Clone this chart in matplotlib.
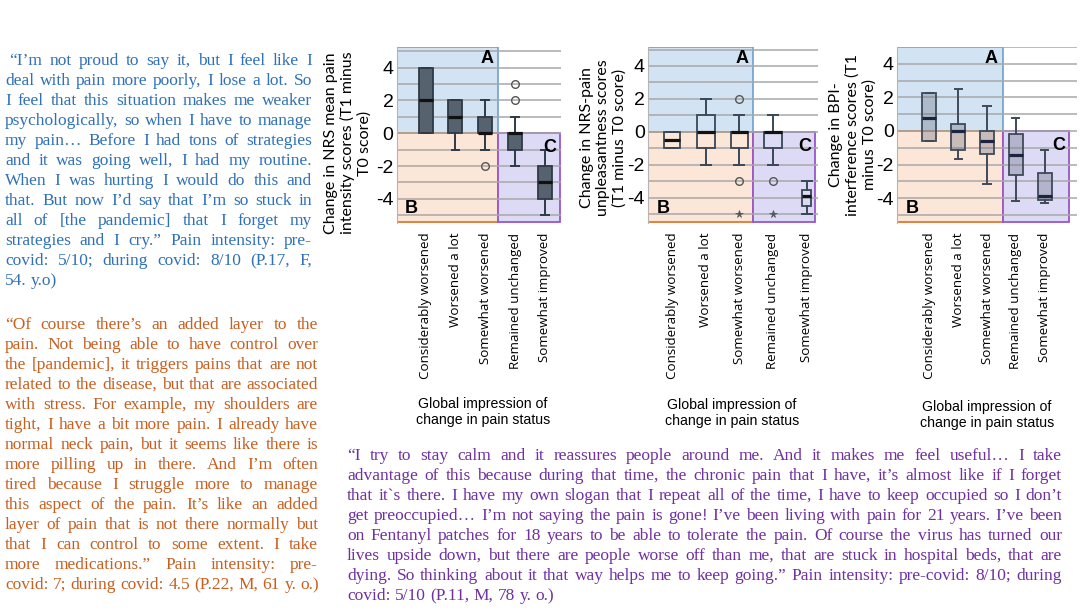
import matplotlib
matplotlib.use("Agg")
import matplotlib.pyplot as plt
from matplotlib import font_manager
from matplotlib.patches import Rectangle

# ---- data ----
categories = ["Considerably worsened", "Worsened a lot", "Somewhat worsened",
              "Remained unchanged", "Somewhat improved"]

# NRS mean pain intensity change
nrs_int_med = [2, 1, 0, 0, -3]
nrs_int_q1 = [0, 0, 0, -1, -4]
nrs_int_q3 = [4, 2, 1, 0, -2]
nrs_int_lo = [0, -1, -1, -2, -5]
nrs_int_hi = [4, 2, 2, 1, -1]
nrs_int_out = [[], [], [-2], [2, 3], []]
nrs_int_ext = [[], [], [], [], []]

# NRS pain unpleasantness change
nrs_unp_med = [-0.5, 0, 0, 0, -3.9]
nrs_unp_q1 = [-1, -1, -1, -1, -4.5]
nrs_unp_q3 = [0, 1, 0, 0, -3.5]
nrs_unp_lo = [-1, -2, -2, -2, -5]
nrs_unp_hi = [0, 2, 1, 1, -3]
nrs_unp_out = [[], [], [2, -3], [-3], []]
nrs_unp_ext = [[], [], [-5], [-5], []]

# BPI interference change
bpi_med = [0.8, 0, -0.6, -1.45, -3.85]
bpi_q1 = [-0.6, -1.15, -1.35, -2.6, -4.1]
bpi_q3 = [2.25, 0.4, 0, -0.2, -2.5]
bpi_lo = [-0.6, -1.7, -3.15, -4.15, -4.3]
bpi_hi = [2.25, 2.5, 1.5, 0.8, -1.15]
bpi_out = [[], [], [], [], []]
bpi_ext = [[], [], [], [], []]

quote_blue = [
    " \u201cI\u2019m not proud to say it, but I feel like I",
    "deal with pain more poorly, I lose a lot. So",
    "I feel that this situation makes me weaker",
    "psychologically, so when I have to manage",
    "my pain\u2026 Before I had tons of strategies",
    "and it was going well, I had my routine.",
    "When I was hurting I would do this and",
    "that. But now I\u2019d say that I\u2019m so stuck in",
    "all of [the pandemic] that I forget my",
    "strategies and I cry.\u201d Pain intensity: pre-",
    "covid: 5/10; during covid: 8/10 (P.17, F,",
    "54. y.o)",
]
quote_orange = [
    "\u201cOf course there\u2019s an added layer to the",
    "pain. Not being able to have control over",
    "the [pandemic], it triggers pains that are not",
    "related to the disease, but that are associated",
    "with stress. For example, my shoulders are",
    "tight, I have a bit more pain. I already have",
    "normal neck pain, but it seems like there is",
    "more pilling up in there. And I\u2019m often",
    "tired because I struggle more to manage",
    "this aspect of the pain. It\u2019s like an added",
    "layer of pain that is not there normally but",
    "that I can control to some extent. I take",
    "more medications.\u201d Pain intensity: pre-",
    "covid: 7; during covid: 4.5 (P.22, M, 61 y. o.)",
]
quote_purple = [
    "\u201cI try to stay calm and it reassures people around me. And it makes me feel useful\u2026 I take",
    "advantage of this because during that time, the chronic pain that I have, it\u2019s almost like if I forget",
    "that it`s there. I have my own slogan that I repeat all of the time, I have to keep occupied so I don\u2019t",
    "get preoccupied\u2026 I\u2019m not saying the pain is gone! I\u2019ve been living with pain for 21 years. I\u2019ve been",
    "on Fentanyl patches for 18 years to be able to tolerate the pain. Of course the virus has turned our",
    "lives upside down, but there are people worse off than me, that are stuck in hospital beds, that are",
    "dying. So thinking about it that way helps me to keep going.\u201d Pain intensity: pre-covid: 8/10; during",
    "covid: 5/10 (P.11, M, 78 y. o.)",
]


def pick(*names):
    have = {f.name for f in font_manager.fontManager.ttflist}
    for n in names:
        if n in have:
            return n
    return "DejaVu Sans"


NARROW = pick("Liberation Sans Narrow", "Liberation Sans")
LABELF = pick("Lato", "Open Sans")
TICKF = pick("Open Sans", "DejaVu Sans")
SERIF = pick("Liberation Serif", "DejaVu Serif")

W, H = 1084, 612
fig = plt.figure(figsize=(W / 100, H / 100), dpi=100)
fig.patch.set_facecolor("white")


def px_axes(l, t, r, b):
    return fig.add_axes([l / W, 1 - b / H, (r - l) / W, (b - t) / H])


def panel(ax, med, q1, q3, lo, hi, out, ext, xlim, ylim, split, c_right,
          widths, capw, face, edge, med_c):
    ax.set_xlim(*xlim)
    ax.set_ylim(*ylim)
    y0, y1 = ylim
    x0 = xlim[0]
    # shaded A / B / C regions
    ax.add_patch(Rectangle((x0, 0), split - x0, y1 - 0.02, facecolor="#d2e3f3",
                           edgecolor="#6f9fcf", lw=1.2, zorder=0.2))
    ax.add_patch(Rectangle((x0, y0 + 0.05), split - x0, -y0 - 0.05, facecolor="#fce6d8",
                           edgecolor="#dd7a30", lw=1.3, zorder=0.25))
    ax.add_patch(Rectangle((split, y0 + 0.05), c_right - split - 0.02, -y0 - 0.05,
                           facecolor="#dddaf6", edgecolor="#9a55cc", lw=1.3, zorder=0.25))
    ax.annotate("A", (split, y1), xytext=(-5, -3), textcoords="offset pixels",
                ha="right", va="top", fontsize=13, fontweight="bold", family="Liberation Sans")
    ax.annotate("B", (x0, y0), xytext=(8, 6), textcoords="offset pixels",
                ha="left", va="bottom", fontsize=13, fontweight="bold", family="Liberation Sans")
    ax.annotate("C", (c_right, 0), xytext=(-5, -6), textcoords="offset pixels",
                ha="right", va="top", fontsize=13, fontweight="bold", family="Liberation Sans")

    pos = list(range(1, len(med) + 1))
    stats = [dict(med=m, q1=a, q3=b, whislo=l, whishi=h, fliers=o)
             for m, a, b, l, h, o in zip(med, q1, q3, lo, hi, out)]
    ax.bxp(stats, positions=pos, widths=widths, capwidths=capw, patch_artist=True,
           manage_ticks=False,
           boxprops=dict(facecolor=face, edgecolor=edge, lw=1.3),
           medianprops=dict(color=med_c, lw=2.3),
           whiskerprops=dict(color=edge, lw=1.4),
           capprops=dict(color=edge, lw=1.4),
           flierprops=dict(marker="o", markerfacecolor="none", markeredgecolor="#555555",
                           markersize=5.5, mew=1.0))
    for p, vals in zip(pos, ext):
        if vals:
            ax.plot([p] * len(vals), vals, ls="none", marker="*", ms=5.5,
                    color="#555555", mew=0.5)

    ticks = list(range(-5, 6))
    ax.set_yticks(ticks)
    ax.set_yticklabels([str(t) if t % 2 == 0 else "" for t in ticks],
                       family=NARROW, fontsize=14)
    ax.set_xticks(pos)
    ax.set_xticklabels(categories, rotation=90, family=TICKF, fontsize=9.6)
    ax.tick_params(axis="y", length=0, pad=2.5)
    ax.tick_params(axis="x", length=0, pad=7)
    ax.set_axisbelow(True)
    ax.yaxis.grid(True, color="#a8a8a8", lw=1.1)
    for s in ("top", "right", "bottom"):
        ax.spines[s].set_visible(False)
    ax.spines["left"].set_color("#b5b5b5")
    ax.set_facecolor("none")


ax1 = px_axes(397, 46.7, 561, 223)
panel(ax1, nrs_int_med, nrs_int_q1, nrs_int_q3, nrs_int_lo, nrs_int_hi, nrs_int_out,
      nrs_int_ext, (0.04, 5.54), (-5.47, 5.28), 3.43, 5.54, 0.47, 0.26,
      "#56636f", "#2e3a46", "#111111")

ax2 = px_axes(648.3, 46.7, 818, 223)
panel(ax2, nrs_unp_med, nrs_unp_q1, nrs_unp_q3, nrs_unp_lo, nrs_unp_hi, nrs_unp_out,
      nrs_unp_ext, (0.293, 5.34), (-5.52, 5.17), 3.41, 5.28,
      [0.47, 0.54, 0.52, 0.54, 0.25], 0.3, "none", "#3a4756", "#111111")

ax3 = px_axes(897.3, 46.7, 1077, 223)
panel(ax3, bpi_med, bpi_q1, bpi_q3, bpi_lo, bpi_hi, bpi_out, bpi_ext,
      (-0.115, 6.125), (-5.49, 5.03), 3.55, 5.88, 0.48, 0.25,
      (0.40, 0.43, 0.50, 0.35), "#3f4a58", "#1c2540")

# axis titles placed by pixel
ylabels = [("Change in NRS mean pain\nintensity scores (T1 minus\nT0 score)", 348, 143),
           ("Change in NRS-pain\nunpleasantness scores\n(T1 minus T0 score)", 603, 138),
           ("Change in BPI-\ninterference scores (T1\nminus T0 score)", 853, 135)]
for txt, x, y in ylabels:
    fig.text(x / W, 1 - y / H, txt, rotation=90, ha="center", va="center",
             multialignment="center", family=LABELF, fontsize=11.5, linespacing=1.2)

for x, y in [(483, 412), (732, 413), (987, 415)]:
    fig.text(x / W, 1 - y / H, "Global impression of\nchange in pain status",
             ha="center", va="center", multialignment="center", family=NARROW,
             fontsize=10.2, linespacing=1.25)


# justified quote blocks
renderer = fig.canvas.get_renderer()


def measure(s, fs):
    t = fig.text(0, 0, s, fontsize=fs, family=SERIF)
    w = t.get_window_extent(renderer).width
    t.remove()
    return w


def justify(lines, x0, x1, base0, step, color, size):
    target = x1 - x0
    space = measure("a a", size) - measure("aa", size)
    need = 0
    for l in lines[:-1]:
        words = l.split()
        need = max(need, sum(measure(w, size) for w in words) + 0.55 * space * (len(words) - 1))
    if need > target:
        size *= target / need
        space *= target / need
    for i, line in enumerate(lines):
        indent = (len(line) - len(line.lstrip())) * space
        words = line.split()
        y = 1 - (base0 + i * step) / H
        arts = [fig.text(0, y, w, fontsize=size, family=SERIF, color=color,
                         ha="left", va="baseline") for w in words]
        widths = [a.get_window_extent(renderer).width for a in arts]
        if i == len(lines) - 1 or len(words) < 2:
            gap = space
        else:
            gap = (target - indent - sum(widths)) / (len(words) - 1)
        x = x0 + indent
        for a, w in zip(arts, widths):
            a.set_x(x / W)
            x += w + gap


justify(quote_blue, 5, 312, 65, 20, "#2f70b8", 12.5)
justify(quote_orange, 5, 318, 329, 20, "#c95f1f", 12.5)
justify(quote_purple, 347, 1062, 460, 20, "#7030a0", 12.5)

fig.savefig("out.png", dpi=100, facecolor="white")
